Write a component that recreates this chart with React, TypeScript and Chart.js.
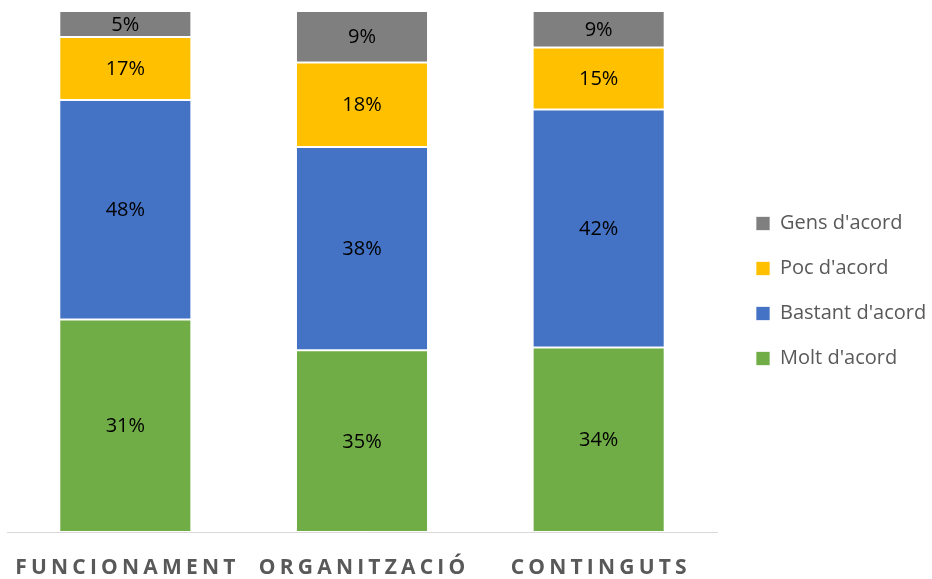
import React, { useEffect, useRef } from 'react';
import { Chart, registerables } from 'chart.js';

Chart.register(...registerables);

const categories = ['FUNCIONAMENT', 'ORGANITZACIÓ', 'CONTINGUTS'];
const seriesNames = ["Molt d'acord", "Bastant d'acord", "Poc d'acord", "Gens d'acord"];
const seriesColors = ['#70AD47', '#4472C4', '#FFC000', '#7F7F7F'];

// bar segment heights (share of the bar, %)
const moltValues = [40.8, 34.9, 35.4];
const bastantValues = [42.1, 39.0, 45.7];
const pocValues = [12.1, 16.2, 11.9];
const gensValues = [5.0, 9.9, 7.0];

// data labels as printed on the picture
const moltLabels = ['31%', '35%', '34%'];
const bastantLabels = ['48%', '38%', '42%'];
const pocLabels = ['17%', '18%', '15%'];
const gensLabels = ['5%', '9%', '9%'];

const allValues = [moltValues, bastantValues, pocValues, gensValues];
const allLabels = [moltLabels, bastantLabels, pocLabels, gensLabels];

const segmentLabelsPlugin = {
  id: 'segmentLabels',
  afterDatasetsDraw(chart: any) {
    const ctx = chart.ctx;
    ctx.save();
    ctx.font = '20px "Open Sans"';
    ctx.fillStyle = '#000000';
    ctx.textAlign = 'center';
    ctx.textBaseline = 'middle';
    chart.data.datasets.forEach((ds: any, di: number) => {
      const meta = chart.getDatasetMeta(di);
      meta.data.forEach((el: any, i: number) => {
        const { x, y, base } = el.getProps(['x', 'y', 'base'], true);
        ctx.fillText(ds.segmentLabels[i], x, (y + base) / 2 + 1);
      });
    });
    ctx.restore();
  },
};

const categoryLabelsPlugin = {
  id: 'categoryLabels',
  afterDraw(chart: any) {
    const ctx = chart.ctx;
    const xScale = chart.scales.x;
    const spacing = 4.2;
    ctx.save();
    ctx.font = 'bold 21px "Open Sans"';
    ctx.fillStyle = '#595959';
    ctx.textAlign = 'center';
    ctx.textBaseline = 'middle';
    (ctx as any).letterSpacing = spacing + 'px';
    chart.data.labels.forEach((lab: string, i: number) => {
      const x = xScale.getPixelForValue(i);
      ctx.fillText(lab, x + spacing / 2, chart.chartArea.bottom + 36);
    });
    ctx.restore();
  },
};

export default function App() {
  const canvasRef = useRef<HTMLCanvasElement | null>(null);

  useEffect(() => {
    document.body.style.margin = '0';
    const canvas = canvasRef.current;
    if (!canvas) return;
    const chart = new Chart(canvas, {
      type: 'bar',
      data: {
        labels: categories,
        datasets: seriesNames.map((name, k) => ({
          label: name,
          data: allValues[k],
          segmentLabels: allLabels[k],
          backgroundColor: seriesColors[k],
          borderColor: 'rgba(255,255,255,0.7)',
          borderWidth: 1,
          borderSkipped: false,
          categoryPercentage: 1,
          barPercentage: 0.558,
        })) as any,
      },
      options: {
        responsive: false,
        animation: false,
        devicePixelRatio: 1,
        layout: { padding: { left: 7, top: 11, right: 0, bottom: 8 } },
        scales: {
          x: {
            stacked: true,
            grid: { display: false },
            border: { display: true, color: '#d9d9d9', width: 1 },
            ticks: { display: false },
            afterFit: (s: any) => {
              s.height = 39;
            },
          },
          y: {
            stacked: true,
            position: 'right',
            min: 0,
            max: 100,
            grid: { display: false },
            border: { display: false },
            ticks: { display: false },
            afterFit: (s: any) => {
              s.width = 14;
            },
          },
        },
        plugins: {
          legend: {
            position: 'right',
            reverse: true,
            maxWidth: 201,
            labels: {
              boxWidth: 14,
              boxHeight: 14,
              padding: 25,
              color: '#595959',
              font: { family: '"Open Sans"', size: 20 },
            },
          },
          tooltip: { enabled: false },
        },
      },
      plugins: [segmentLabelsPlugin, categoryLabelsPlugin],
    });
    return () => chart.destroy();
  }, []);

  return (
    <div style={{ width: 932, height: 579 }}>
      <canvas ref={canvasRef} width={932} height={579} />
    </div>
  );
}
